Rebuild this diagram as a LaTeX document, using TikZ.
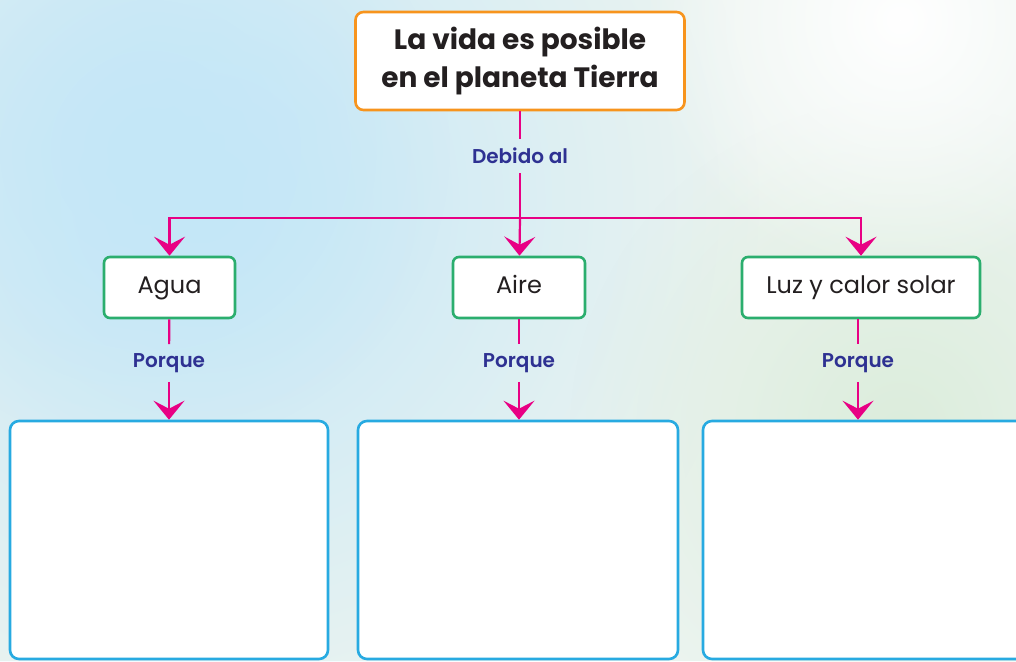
\documentclass[tikz,border=0pt]{standalone}
\usepackage{fontspec}
\setmainfont{Poppins}
\newfontfamily\medfont{Poppins SemiBold}
\usetikzlibrary{arrows.meta, positioning, fadings}
\definecolor{titleorange}{RGB}{247, 148, 29}
\definecolor{boxgreen}{RGB}{43, 174, 110}
\definecolor{boxblue}{RGB}{39, 170, 225}
\definecolor{linkpink}{RGB}{232, 0, 132}
\definecolor{lbldark}{RGB}{46, 49, 146}
\definecolor{textdark}{RGB}{35, 31, 32}
\definecolor{skyblue}{RGB}{196, 231, 248}
\definecolor{palegreen}{RGB}{220, 237, 220}
\definecolor{paper}{RGB}{236, 244, 240}
\tikzfading[name=softspot, inner color=transparent!0, outer color=transparent!100]

\begin{document}
\begin{tikzpicture}[x=1pt, y=-1pt,
    topbox/.style={rectangle, rounded corners=8pt, draw=titleorange, line width=2.6pt,
                fill=white, align=center, text=textdark, font=\fontsize{28}{38}\selectfont\bfseries,
                minimum width=329pt, minimum height=98pt},
    itembox/.style={rectangle, rounded corners=6pt, draw=boxgreen, line width=2.6pt,
                fill=white, text=textdark, font=\fontsize{24}{28}\selectfont,
                text height=17pt, text depth=5pt, minimum height=61pt},
    answerbox/.style={rectangle, rounded corners=9pt, draw=boxblue, line width=2.6pt,
                fill=white, minimum height=238pt},
    lbl/.style={text=lbldark, font=\fontsize{20}{22}\selectfont\medfont, inner sep=9pt},
    link/.style={draw=linkpink, line width=2.2pt},
    arr/.style={link, -{Stealth[length=19pt, width=31pt, inset=8pt]}}]

    % Background
    \useasboundingbox (0,0) rectangle (1016,661);
    \clip (0,0) rectangle (1016,661);
    \fill[paper] (0,0) rectangle (1016,661);
    \fill[skyblue, path fading=softspot] (200,200) circle (560pt);
    \fill[skyblue, path fading=softspot] (150,150) circle (300pt);
    \fill[palegreen, path fading=softspot] (900,430) circle (330pt);
    \fill[white, path fading=softspot] (900,20) circle (260pt);

    % Title
    \node[topbox] (title) at (520,61) {La vida es posible\\en el planeta Tierra};
    \node[lbl] (debido) at (520,156) {Debido al};
    \coordinate (split) at (520,218);

    % Items
    \node[itembox, minimum width=131pt] (agua) at (169.5,287.5) {Agua};
    \node[itembox, minimum width=132pt] (aire) at (519,287.5) {Aire};
    \node[itembox, minimum width=238pt] (luz) at (861,287.5) {Luz y calor solar};

    % Porque labels
    \node[lbl] (why1) at (169,363) {Porque};
    \node[lbl] (why2) at (519,363) {Porque};
    \node[lbl] (why3) at (858,363) {Porque};

    % Answer boxes
    \node[answerbox, minimum width=318pt] (ans1) at (169,540) {};
    \node[answerbox, minimum width=320pt] (ans2) at (518,540) {};
    \node[answerbox, minimum width=340pt] (ans3) at (873,540) {};

    % Arrows
    \draw[link] (title) -- (debido);
    \draw[link] (debido) -- (split);
    \draw[arr] (split) -| (agua);
    \draw[arr] (split) -- (aire);
    \draw[arr] (split) -| (luz);
    \draw[link] (agua) -- (why1);
    \draw[link] (aire) -- (why2);
    \draw[link] (luz.south -| why3) -- (why3);
    \draw[arr] (why1) -- (ans1.north -| why1);
    \draw[arr] (why2) -- (ans2.north -| why2);
    \draw[arr] (why3) -- (ans3.north -| why3);
\end{tikzpicture}
\end{document}
